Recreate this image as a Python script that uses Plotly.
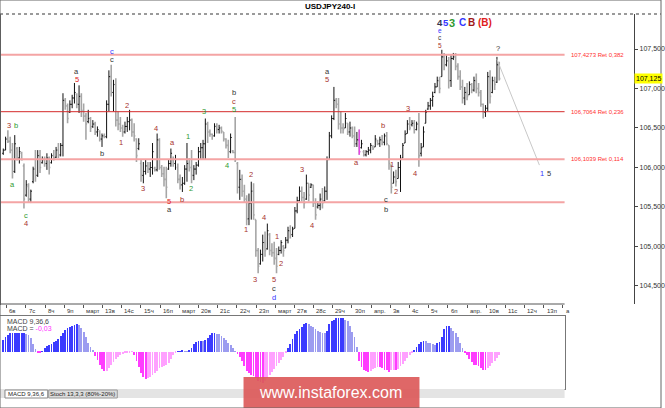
import plotly.graph_objects as go

# H4 bars (index 0 = first bar on the left)
opens = [
    106.18, 106.22, 106.36, 106.33, 106.22, 105.95, 106.24, 106.12, 106.18, 106.02,
    105.65, 105.76, 105.60, 105.82, 105.98, 105.90, 106.15, 106.06, 106.10, 106.05,
    106.12, 106.06, 106.15, 106.13, 106.22, 106.16, 106.28, 106.85, 106.78, 106.70,
    106.80, 106.88, 106.93, 106.80, 106.90, 106.72, 106.65, 106.58, 106.62, 106.52,
    106.55, 106.45, 106.46, 106.36, 106.40, 106.39, 106.80, 107.15, 106.95, 107.05,
    106.60, 106.55, 106.50, 106.45, 106.52, 106.58, 106.60, 106.45, 106.36, 106.24,
    106.05, 105.90, 105.95, 106.02, 105.98, 106.00, 105.99, 105.97, 106.35, 106.00,
    105.92, 105.85, 105.98, 106.05, 106.10, 106.05, 106.00, 105.85, 105.78, 105.80,
    105.98, 106.05, 106.00, 105.90, 105.98, 106.03, 106.20, 106.25, 106.30, 106.55,
    106.45, 106.42, 106.40, 106.52, 106.48, 106.50, 106.45, 106.36, 106.28, 106.20,
    106.21, 106.19, 106.05, 105.75, 105.85, 105.70, 105.60, 105.35, 105.55, 105.70,
    105.34, 104.95, 104.78, 104.90, 105.05, 104.97, 105.15, 104.95, 104.92, 104.85,
    104.90, 104.95, 105.00, 104.98, 105.08, 105.20, 105.15, 105.23, 105.45, 105.58,
    105.70, 105.62, 105.60, 105.80, 105.75, 105.78, 105.55, 105.50, 105.52, 105.60,
    105.58, 105.70, 106.10, 106.40, 106.62, 106.85, 106.80, 106.55, 106.50, 106.50,
    106.56, 106.45, 106.50, 106.40, 106.30, 106.35, 106.25, 106.20, 106.16, 106.20,
    106.22, 106.26, 106.26, 106.34, 106.30, 106.35, 106.32, 106.40, 106.28, 106.03,
    105.80, 105.88, 105.86, 106.00, 106.12, 106.31, 106.43, 106.55, 106.54, 106.56,
    106.48, 106.55, 106.18, 106.26, 106.56, 106.74, 106.78, 106.85, 106.95, 107.02,
    107.10, 107.15, 107.40, 107.30, 107.35, 107.10, 107.38, 107.40, 107.28, 107.15,
    107.02, 106.88, 106.95, 106.92, 107.05, 106.98, 107.10, 107.00, 106.95, 106.80,
    106.70, 106.75, 107.15, 106.95, 107.10, 107.08, 107.30,
]
highs = [
    106.24, 106.39, 106.47, 106.39, 106.31, 106.41, 106.26, 106.26, 106.20, 106.05,
    105.84, 105.80, 105.72, 106.01, 106.22, 106.22, 106.22, 106.14, 106.14, 106.18,
    106.14, 106.18, 106.22, 106.26, 106.31, 106.31, 106.94, 106.88, 106.81, 106.85,
    106.92, 107.07, 106.94, 107.04, 106.94, 106.81, 106.69, 106.73, 106.64, 106.60,
    106.58, 106.52, 106.47, 106.43, 106.43, 106.85, 107.23, 107.30, 107.11, 107.13,
    106.71, 106.64, 106.54, 106.58, 106.64, 106.73, 106.62, 106.56, 106.37, 106.37,
    106.10, 106.07, 106.10, 106.07, 106.07, 106.31, 106.01, 106.43, 106.37, 106.03,
    106.01, 106.01, 106.10, 106.24, 106.14, 106.16, 106.05, 105.91, 105.88, 106.03,
    106.31, 106.12, 106.22, 106.03, 106.07, 106.26, 106.31, 106.35, 106.62, 106.58,
    106.48, 106.43, 106.56, 106.56, 106.54, 106.52, 106.45, 106.37, 106.35, 106.43,
    106.22, 106.64, 106.07, 105.97, 105.91, 105.78, 105.65, 105.67, 105.82, 105.80,
    105.34, 104.98, 104.96, 105.15, 105.19, 105.29, 105.17, 105.04, 105.06, 104.98,
    105.00, 105.08, 105.02, 105.12, 105.25, 105.27, 105.25, 105.50, 105.63, 105.76,
    105.76, 105.69, 105.91, 105.80, 105.80, 105.78, 105.61, 105.57, 105.67, 105.74,
    105.76, 106.14, 106.45, 106.66, 107.02, 106.88, 106.88, 106.71, 106.56, 106.69,
    106.56, 106.58, 106.52, 106.52, 106.45, 106.48, 106.35, 106.22, 106.22, 106.26,
    106.31, 106.28, 106.41, 106.35, 106.39, 106.41, 106.43, 106.45, 106.28, 106.03,
    105.95, 105.97, 106.07, 106.16, 106.31, 106.47, 106.60, 106.64, 106.60, 106.60,
    106.58, 106.69, 106.31, 106.52, 106.73, 106.83, 106.88, 106.96, 107.07, 107.15,
    107.15, 107.49, 107.45, 107.42, 107.40, 107.42, 107.45, 107.45, 107.32, 107.23,
    107.11, 107.02, 107.07, 107.09, 107.07, 107.15, 107.19, 107.07, 106.98, 106.81,
    106.79, 107.21, 107.23, 107.15, 107.15, 107.40, 107.34,
]
lows = [
    106.16, 106.22, 106.31, 106.18, 105.86, 105.93, 106.09, 106.05, 106.09, 105.48,
    105.63, 105.55, 105.55, 105.80, 105.82, 105.88, 105.93, 106.05, 106.01, 105.97,
    105.91, 106.05, 106.09, 106.12, 106.12, 106.14, 106.14, 106.73, 106.56, 106.69,
    106.75, 106.81, 106.75, 106.69, 106.64, 106.58, 106.35, 106.56, 106.45, 106.50,
    106.41, 106.39, 106.33, 106.26, 106.37, 106.37, 106.71, 106.90, 106.71, 106.52,
    106.47, 106.45, 106.39, 106.43, 106.45, 106.47, 106.39, 106.33, 106.07, 106.22,
    105.82, 105.80, 105.91, 105.93, 105.88, 105.91, 105.95, 105.95, 105.97, 105.88,
    105.76, 105.61, 105.97, 106.01, 106.01, 105.97, 105.80, 105.72, 105.69, 105.78,
    105.82, 105.95, 105.80, 105.84, 105.91, 106.01, 106.10, 106.10, 106.10, 106.31,
    106.39, 106.35, 106.39, 106.43, 106.43, 106.43, 106.33, 106.24, 106.12, 106.18,
    106.18, 106.07, 105.67, 105.59, 105.63, 105.55, 105.27, 105.27, 105.34, 105.34,
    104.87, 104.66, 104.77, 104.81, 104.87, 104.96, 104.89, 104.87, 104.77, 104.66,
    104.89, 104.91, 104.87, 104.98, 105.04, 105.10, 105.12, 105.23, 105.42, 105.57,
    105.57, 105.48, 105.59, 105.57, 105.74, 105.50, 105.34, 105.48, 105.46, 105.48,
    105.57, 105.59, 106.10, 106.37, 106.60, 106.75, 106.48, 106.43, 106.43, 106.50,
    106.41, 106.39, 106.37, 106.26, 106.26, 106.16, 106.24, 106.14, 106.14, 106.16,
    106.18, 106.22, 106.26, 106.28, 106.26, 106.28, 106.28, 106.28, 105.97, 105.67,
    105.80, 105.76, 105.86, 105.69, 106.12, 106.31, 106.43, 106.47, 106.52, 106.43,
    106.47, 106.01, 106.14, 106.26, 106.56, 106.73, 106.73, 106.77, 106.94, 107.02,
    106.94, 107.15, 107.23, 107.28, 107.00, 107.02, 107.36, 107.23, 107.11, 106.98,
    106.81, 106.79, 106.85, 106.92, 106.94, 106.96, 106.94, 106.90, 106.77, 106.62,
    106.64, 106.71, 106.81, 106.94, 106.98, 107.07, 107.10,
]
closes = [
    106.22, 106.36, 106.33, 106.22, 105.95, 106.30, 106.12, 106.20, 106.10, 105.60,
    105.78, 105.60, 105.70, 105.98, 105.90, 106.15, 106.00, 106.10, 106.05, 106.12,
    106.00, 106.15, 106.12, 106.22, 106.15, 106.28, 106.85, 106.78, 106.62, 106.80,
    106.88, 106.95, 106.80, 106.90, 106.72, 106.65, 106.55, 106.62, 106.50, 106.55,
    106.45, 106.48, 106.36, 106.40, 106.39, 106.80, 107.15, 106.95, 107.05, 106.60,
    106.55, 106.50, 106.45, 106.52, 106.58, 106.60, 106.45, 106.40, 106.15, 106.30,
    105.90, 105.95, 106.02, 105.98, 106.00, 106.20, 105.97, 106.35, 106.00, 105.92,
    105.85, 105.75, 106.05, 106.18, 106.05, 106.10, 105.85, 105.78, 105.80, 105.98,
    106.05, 106.00, 105.90, 105.98, 106.03, 106.20, 106.25, 106.30, 106.55, 106.45,
    106.42, 106.40, 106.52, 106.48, 106.50, 106.46, 106.36, 106.28, 106.20, 106.38,
    106.19, 106.10, 105.75, 105.85, 105.70, 105.60, 105.35, 105.55, 105.70, 105.40,
    104.95, 104.75, 104.90, 105.05, 104.95, 105.20, 104.95, 104.92, 104.85, 104.75,
    104.95, 105.05, 104.95, 105.08, 105.20, 105.15, 105.22, 105.45, 105.58, 105.70,
    105.62, 105.55, 105.80, 105.65, 105.78, 105.55, 105.40, 105.52, 105.60, 105.55,
    105.70, 106.10, 106.40, 106.62, 106.85, 106.80, 106.55, 106.50, 106.48, 106.62,
    106.45, 106.50, 106.40, 106.30, 106.35, 106.20, 106.30, 106.16, 106.20, 106.22,
    106.28, 106.24, 106.36, 106.30, 106.35, 106.32, 106.40, 106.30, 106.05, 105.75,
    105.88, 105.82, 106.00, 106.10, 106.28, 106.42, 106.55, 106.50, 106.56, 106.48,
    106.55, 106.15, 106.25, 106.45, 106.70, 106.78, 106.85, 106.90, 107.02, 107.10,
    107.00, 107.40, 107.30, 107.35, 107.10, 107.38, 107.40, 107.28, 107.15, 107.02,
    106.88, 106.95, 106.90, 107.05, 106.98, 107.10, 107.00, 106.95, 106.80, 106.70,
    106.75, 107.15, 106.90, 107.10, 107.05, 107.30, 107.125,
]
marked_bars = [155]   # the magenta bar

macd = [
    0.12, 0.15, 0.17, 0.19, 0.19, 0.19, 0.19, 0.19, 0.19, 0.19,
    0.18, 0.167, 0.14, 0.08, 0.03, -0.005, -0.01, 0.005, 0.033, 0.055,
    0.067, 0.08, 0.095, 0.11, 0.13, 0.16, 0.19, 0.217, 0.24, 0.25,
    0.257, 0.265, 0.273, 0.27, 0.24, 0.20, 0.15, 0.09, 0.05, 0.02,
    -0.04, -0.085, -0.13, -0.17, -0.195, -0.19, -0.16, -0.13, -0.10, -0.07,
    -0.05, -0.035, -0.023, -0.015, -0.01, -0.007, -0.003, -0.03, -0.09, -0.15,
    -0.21, -0.255, -0.273, -0.267, -0.25, -0.23, -0.21, -0.19, -0.167, -0.15,
    -0.143, -0.135, -0.11, -0.07, -0.035, -0.01, 0.003, 0.007, 0.01, 0.005,
    0.003, 0.01, 0.04, 0.075, 0.10, 0.11, 0.11, 0.105, 0.115, 0.14,
    0.165, 0.183, 0.183, 0.175, 0.173, 0.16, 0.14, 0.115, 0.09, 0.07,
    0.04, 0.005, -0.025, -0.05, -0.09, -0.14, -0.19, -0.215, -0.233, -0.243,
    -0.265, -0.29, -0.305, -0.31, -0.29, -0.26, -0.23, -0.20, -0.17, -0.14,
    -0.115, -0.085, -0.05, -0.01, 0.04, 0.08, 0.125, 0.18, 0.21, 0.23,
    0.25, 0.28, 0.283, 0.277, 0.26, 0.25, 0.23, 0.205, 0.20, 0.19,
    0.185, 0.21, 0.275, 0.305, 0.32, 0.333, 0.333, 0.333, 0.333, 0.32,
    0.305, 0.26, 0.20, 0.15, 0.05, -0.09, -0.15, -0.18, -0.195, -0.205,
    -0.195, -0.175, -0.16, -0.15, -0.15, -0.167, -0.183, -0.183, -0.20, -0.185,
    -0.183, -0.187, -0.17, -0.145, -0.12, -0.09, -0.06, -0.03, -0.017, 0.017,
    0.045, 0.08, 0.095, 0.107, 0.105, 0.09, 0.083, 0.075, 0.07, 0.085,
    0.10, 0.15, 0.23, 0.255, 0.257, 0.24, 0.21, 0.19, 0.15, 0.09,
    0.035, -0.005, -0.03, -0.07, -0.10, -0.133, -0.133, -0.145, -0.16, -0.18,
    -0.18, -0.16, -0.14, -0.115, -0.095, -0.065, -0.035,
]

time_labels = ["6в", "7с", "8ч", "9п", "март", "13в", "14с", "15ч", "16п", "март",
               "20в", "21с", "22ч", "23п", "март", "27в", "28с", "29ч", "30п", "апр.",
               "3в", "4с", "5ч", "6п", "апр.", "10в", "11с", "12ч", "13п", "а"]
price_ticks = [104.5, 105.0, 105.5, 106.0, 106.5, 107.0, 107.5]
price_tick_text = ["104,500", "105,000", "105,500", "106,000", "106,500", "107,000", "107,500"]

levels = [107.4273, 106.7064, 106.1039, 105.56]
level_text = ["107,4273 Ret 0,382", "106,7064 Ret 0,236", "106,1039 Ret 0,114", ""]
last_price = 107.125
forecast_x = [215, 233.5]
forecast_y = [107.37, 106.03]

BROWN = "#a8322c"
GREEN = "#2f9a2f"
DARK = "#333333"
BLUE = "#3535ff"
RED = "#e02020"

# wave marks: text, bar index, price, colour
wave_labels = [
    ("3", 2.5, 106.53, BROWN), ("b", 5.5, 106.53, GREEN), ("a", 4.2, 105.79, GREEN),
    ("c", 9.8, 105.39, GREEN), ("4", 9.8, 105.29, BROWN),
    ("a", 31.9, 107.22, DARK), ("5", 31.9, 107.12, RED), ("b", 43.2, 106.18, DARK),
    ("c", 47.5, 107.47, BLUE), ("c", 47.5, 107.37, DARK),
    ("1", 51.4, 106.32, BROWN), ("2", 54.0, 106.79, BROWN), ("3", 60.9, 105.74, BROWN),
    ("4", 66.5, 106.49, BROWN), ("a", 73.5, 106.32, BROWN), ("5", 72.2, 105.57, RED),
    ("a", 72.2, 105.47, DARK), ("b", 77.8, 105.60, BROWN), ("1", 80.4, 106.39, GREEN),
    ("2", 81.7, 105.73, GREEN), ("3", 87.3, 106.71, GREEN), ("4", 97.3, 106.03, GREEN),
    ("b", 100.3, 106.95, DARK), ("c", 100.3, 106.84, BROWN), ("5", 100.3, 106.73, GREEN),
    ("2", 108.1, 105.91, BROWN), ("1", 105.5, 105.21, BROWN), ("4", 113.7, 105.37, BROWN),
    ("3", 109.8, 104.58, BROWN), ("1", 119.3, 105.13, BROWN), ("2", 121.1, 104.79, BROWN),
    ("5", 118.0, 104.58, BROWN), ("c", 118.0, 104.47, DARK), ("d", 118.0, 104.36, BLUE),
    ("3", 130.2, 105.98, BROWN), ("4", 134.5, 105.26, BROWN),
    ("a", 141.0, 107.21, DARK), ("5", 141.0, 107.11, BROWN),
    ("a", 154.0, 106.06, BROWN), ("b", 165.2, 106.53, BROWN),
    ("c", 166.5, 105.59, DARK), ("b", 166.5, 105.47, DARK),
    ("1", 169.1, 106.04, BROWN), ("2", 170.9, 105.69, BROWN), ("3", 176.1, 106.75, BROWN),
    ("4", 179.1, 105.93, BROWN),
    ("e", 190.3, 107.74, BLUE), ("c", 190.3, 107.65, DARK), ("5", 190.3, 107.55, BROWN),
    ("?", 215.5, 107.51, DARK), ("1", 234.5, 105.93, BLUE), ("5", 237.5, 105.93, DARK),
]
top_labels = [("4", 190.3, "#33334d", 9.5), ("5", 192.9, BLUE, 9.5), ("3", 195.3, GREEN, 11),
              ("C", 200.0, BLUE, 10), ("B", 204.0, "#a01818", 10), ("(B)", 209.6, RED, 10)]

W, H = 665, 408
FONT = "Liberation Sans"


def px(x):
    return x / W


def py(y):
    return 1 - y / H


def bar_at(x):
    # pixel column -> bar index
    return (x - 3.3) / 2.31


n = len(closes)
bars = list(range(n))

fig = go.Figure()
fig.add_trace(go.Ohlc(
    x=bars, open=opens, high=highs, low=lows, close=closes,
    increasing=dict(line=dict(color="#111111", width=1)),
    decreasing=dict(line=dict(color="#a6a6a6", width=1.6)),
    tickwidth=0.5, hoverinfo="skip", showlegend=False,
))
fig.add_trace(go.Ohlc(
    x=marked_bars,
    open=[opens[i] for i in marked_bars], high=[highs[i] for i in marked_bars],
    low=[lows[i] for i in marked_bars], close=[closes[i] for i in marked_bars],
    increasing=dict(line=dict(color="#ff22ff", width=1)),
    decreasing=dict(line=dict(color="#ff22ff", width=1)),
    tickwidth=0.5, hoverinfo="skip", showlegend=False,
))
fig.add_trace(go.Scatter(
    x=forecast_x, y=forecast_y, mode="lines",
    line=dict(color="#c8c8c8", width=1), hoverinfo="skip", showlegend=False,
))

# MACD histogram colours
macd_colors = []
for i, m in enumerate(macd):
    prev = macd[i - 1] if i > 0 else m
    if m >= 0:
        macd_colors.append("#3b3bff" if m >= prev else "#9c9cf0")
    else:
        macd_colors.append("#ff3cff" if m <= prev else "#ffa0ff")
fig.add_trace(go.Bar(
    x=bars, y=macd, marker=dict(color=macd_colors, line=dict(width=0)),
    width=0.36, xaxis="x2", yaxis="y2", hoverinfo="skip", showlegend=False,
))

x_lo = bar_at(0)
x_line_end = bar_at(568)
tick_pos = [bar_at(6.7 + 19.3 * k) for k in range(len(time_labels))]

shapes = []
annotations = []

for lvl, txt in zip(levels, level_text):
    thin = lvl == levels[1]
    shapes.append(dict(type="line", xref="x", yref="y", x0=x_lo, x1=x_line_end,
                       y0=lvl, y1=lvl,
                       line=dict(color="#d42a2a" if thin else "#f4a4a4",
                                 width=1 if thin else 2)))
    if txt:
        annotations.append(dict(xref="x", yref="y", x=bar_at(572), y=lvl, text=txt,
                                xanchor="left", yanchor="middle", showarrow=False,
                                font=dict(family=FONT, size=6, color="#ff3030")))

# title and frame
annotations.append(dict(xref="paper", yref="paper", x=px(332), y=py(6.5),
                        text="<b>USDJPY240-I</b>", showarrow=False,
                        xanchor="center", yanchor="middle",
                        font=dict(family=FONT, size=8, color="#000")))
shapes.append(dict(type="line", xref="paper", yref="paper", x0=0, x1=1,
                   y0=py(14), y1=py(14), line=dict(color="#9a9a9a", width=2, dash="dot")))
shapes.append(dict(type="line", xref="paper", yref="paper", x0=0, x1=px(568),
                   y0=py(304), y1=py(304), line=dict(color="#555", width=1)))
shapes.append(dict(type="line", xref="paper", yref="paper", x0=px(0.5), x1=px(0.5),
                   y0=py(14), y1=py(305), line=dict(color="#555", width=1)))

# time axis labels
for pos, lab in zip(tick_pos, time_labels):
    annotations.append(dict(xref="x", yref="paper", x=pos + 0.3, y=py(310.5), text=lab,
                            xanchor="left", yanchor="middle", showarrow=False,
                            font=dict(family=FONT, size=6, color="#333")))

# current price box
annotations.append(dict(xref="paper", yref="y", x=px(638), y=last_price, text="107,125",
                        xanchor="left", yanchor="middle", showarrow=False, bgcolor="#ffff00",
                        borderpad=1, font=dict(family=FONT, size=7, color="#000")))

for txt, b, p, col in wave_labels:
    small = b > 189 and b < 191
    annotations.append(dict(xref="x", yref="y", x=b, y=p, text=txt, showarrow=False,
                            xanchor="center", yanchor="middle",
                            font=dict(family=FONT, size=6.5 if small else 7.5, color=col)))
for txt, b, col, size in top_labels:
    annotations.append(dict(xref="x", yref="paper", x=b, y=py(22.5), text="<b>" + txt + "</b>",
                            showarrow=False, xanchor="center", yanchor="middle",
                            font=dict(family=FONT, size=size, color=col)))

# MACD panel texts
annotations.append(dict(xref="paper", yref="paper", x=px(5), y=py(321), text="MACD 9,36,6",
                        xanchor="left", yanchor="middle", showarrow=False,
                        font=dict(family=FONT, size=7, color="#444")))
annotations.append(dict(xref="paper", yref="paper", x=px(5), y=py(328.5),
                        text="MACD = <span style='color:#ff33ff'>-0,03</span>",
                        xanchor="left", yanchor="middle", showarrow=False,
                        font=dict(family=FONT, size=7, color="#444")))

# tab strip under the indicator
shapes.append(dict(type="rect", xref="paper", yref="paper", x0=0, x1=px(568),
                   y0=py(398), y1=py(389), fillcolor="#e4e4e4", line=dict(width=0)))
shapes.append(dict(type="rect", xref="paper", yref="paper", x0=px(5), x1=px(48),
                   y0=py(398), y1=py(390), fillcolor="#ffffff",
                   line=dict(color="#888", width=1)))
shapes.append(dict(type="rect", xref="paper", yref="paper", x0=px(49), x1=px(118),
                   y0=py(398), y1=py(390), fillcolor="#dcdcdc",
                   line=dict(color="#999", width=1)))
annotations.append(dict(xref="paper", yref="paper", x=px(26.5), y=py(394), text="MACD 9,36,6",
                        xanchor="center", yanchor="middle",
                        showarrow=False, font=dict(family=FONT, size=6, color="#222")))
annotations.append(dict(xref="paper", yref="paper", x=px(83.5), y=py(394),
                        text="Stoch 13,3,3 (80%-20%)", xanchor="center", yanchor="middle",
                        showarrow=False, font=dict(family=FONT, size=6, color="#222")))

# watermark
shapes.append(dict(type="rect", xref="paper", yref="paper", x0=px(245), x1=px(422),
                   y0=py(408), y1=py(377), fillcolor="#dc5a5a", opacity=0.92,
                   line=dict(width=0), layer="above"))
annotations.append(dict(xref="paper", yref="paper", x=px(333), y=py(392.5),
                        text="www.instaforex.com", showarrow=False,
                        xanchor="center", yanchor="middle",
                        font=dict(family=FONT, size=16, color="#ffffff")))

shapes.append(dict(type="rect", xref="paper", yref="paper", x0=0, x1=1, y0=0, y1=1,
                   line=dict(color="#666", width=1)))

fig.update_layout(
    width=W, height=H, autosize=False,
    margin=dict(l=0, r=0, t=0, b=0),
    paper_bgcolor="#ffffff", plot_bgcolor="#ffffff",
    showlegend=False, bargap=0,
    xaxis=dict(domain=[0, px(638)], range=[x_lo, bar_at(638)],
               showgrid=False, zeroline=False, showline=False,
               ticks="outside", ticklen=3, tickcolor="#555",
               tickvals=tick_pos, showticklabels=False,
               rangeslider=dict(visible=False), fixedrange=True),
    yaxis=dict(domain=[py(304), py(14)], range=[104.272, 107.943], side="right",
               showgrid=False, zeroline=False, showline=True, linecolor="#444",
               ticks="outside", ticklen=3, tickcolor="#444",
               tickvals=price_ticks, ticktext=price_tick_text,
               tickfont=dict(family=FONT, size=7, color="#333")),
    xaxis2=dict(domain=[0, px(568)], range=[x_lo, x_line_end], anchor="y2",
                showgrid=False, zeroline=False, showline=True, mirror=True,
                linecolor="#777", showticklabels=False, ticks=""),
    yaxis2=dict(domain=[py(389), py(316)], range=[-0.373, 0.357], anchor="x2",
                showgrid=False, zeroline=False, showline=True, mirror=True,
                linecolor="#777", showticklabels=False, ticks=""),
    shapes=shapes,
    annotations=annotations,
)

fig.write_html("out.html", config={"displayModeBar": False},
               post_script="document.body.style.margin='0';document.body.style.overflow='hidden';")
